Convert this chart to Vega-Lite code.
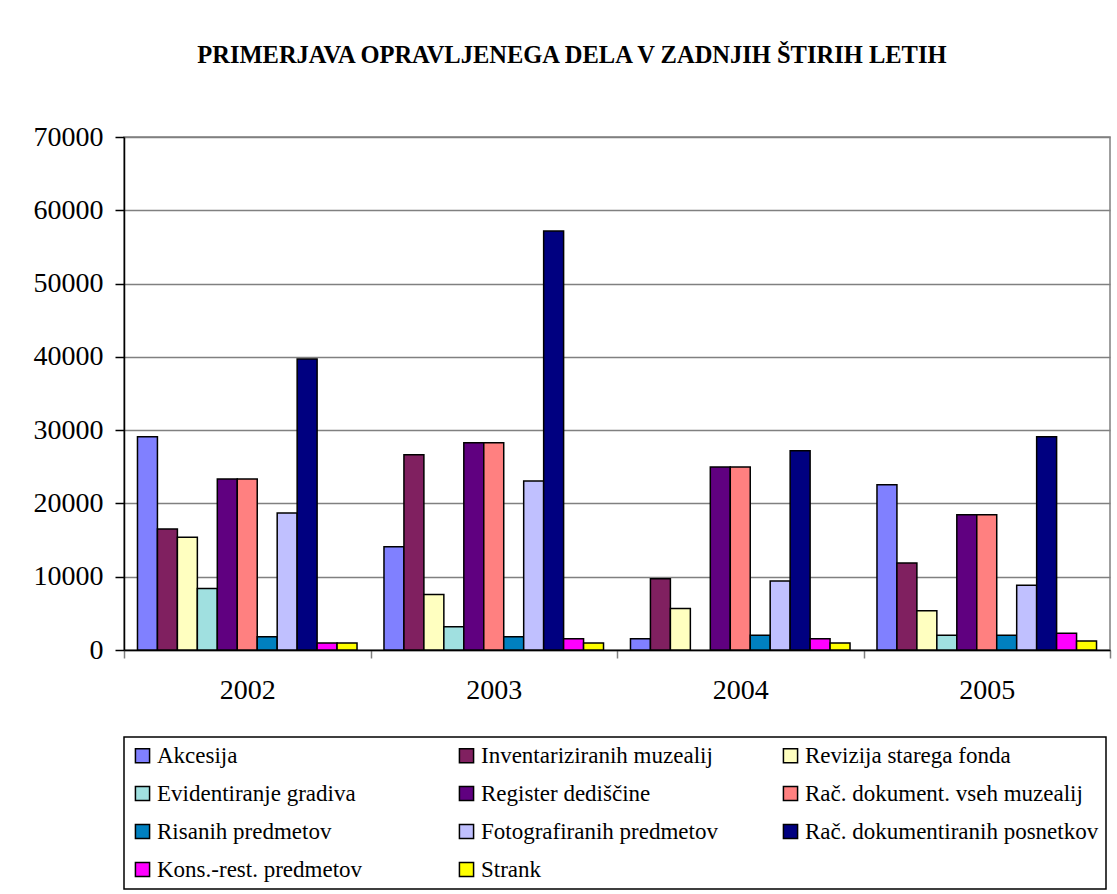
{
  "$schema": "https://vega.github.io/schema/vega-lite/v6.json",
  "width": 986,
  "height": 513,
  "padding": {"left": 33, "top": 42, "right": 7, "bottom": 0},
  "background": "white",
  "title": {
    "text": "PRIMERJAVA OPRAVLJENEGA DELA V ZADNJIH ŠTIRIH LETIH",
    "font": "Liberation Serif",
    "fontSize": 24.5,
    "fontWeight": "bold",
    "color": "black",
    "anchor": "middle",
    "frame": "bounds",
    "offset": 55
  },
  "data": {
    "values": [
      {"year": "2002", "series": "Akcesija", "value": 29100},
      {"year": "2002", "series": "Inventariziranih muzealij", "value": 16500},
      {"year": "2002", "series": "Revizija starega fonda", "value": 15400},
      {"year": "2002", "series": "Evidentiranje gradiva", "value": 8400},
      {"year": "2002", "series": "Register dediščine", "value": 23350},
      {"year": "2002", "series": "Rač. dokument. vseh muzealij", "value": 23350},
      {"year": "2002", "series": "Risanih predmetov", "value": 1800},
      {"year": "2002", "series": "Fotografiranih predmetov", "value": 18700},
      {"year": "2002", "series": "Rač. dokumentiranih posnetkov", "value": 39700},
      {"year": "2002", "series": "Kons.-rest. predmetov", "value": 950},
      {"year": "2002", "series": "Strank", "value": 950},
      {"year": "2003", "series": "Akcesija", "value": 14100},
      {"year": "2003", "series": "Inventariziranih muzealij", "value": 26650},
      {"year": "2003", "series": "Revizija starega fonda", "value": 7560},
      {"year": "2003", "series": "Evidentiranje gradiva", "value": 3160},
      {"year": "2003", "series": "Register dediščine", "value": 28280},
      {"year": "2003", "series": "Rač. dokument. vseh muzealij", "value": 28280},
      {"year": "2003", "series": "Risanih predmetov", "value": 1800},
      {"year": "2003", "series": "Fotografiranih predmetov", "value": 23060},
      {"year": "2003", "series": "Rač. dokumentiranih posnetkov", "value": 57180},
      {"year": "2003", "series": "Kons.-rest. predmetov", "value": 1530},
      {"year": "2003", "series": "Strank", "value": 950},
      {"year": "2004", "series": "Akcesija", "value": 1530},
      {"year": "2004", "series": "Inventariziranih muzealij", "value": 9710},
      {"year": "2004", "series": "Revizija starega fonda", "value": 5650},
      {"year": "2004", "series": "Register dediščine", "value": 24980},
      {"year": "2004", "series": "Rač. dokument. vseh muzealij", "value": 24980},
      {"year": "2004", "series": "Risanih predmetov", "value": 2000},
      {"year": "2004", "series": "Fotografiranih predmetov", "value": 9430},
      {"year": "2004", "series": "Rač. dokumentiranih posnetkov", "value": 27180},
      {"year": "2004", "series": "Kons.-rest. predmetov", "value": 1530},
      {"year": "2004", "series": "Strank", "value": 950},
      {"year": "2005", "series": "Akcesija", "value": 22540},
      {"year": "2005", "series": "Inventariziranih muzealij", "value": 11870},
      {"year": "2005", "series": "Revizija starega fonda", "value": 5360},
      {"year": "2005", "series": "Evidentiranje gradiva", "value": 2000},
      {"year": "2005", "series": "Register dediščine", "value": 18470},
      {"year": "2005", "series": "Rač. dokument. vseh muzealij", "value": 18470},
      {"year": "2005", "series": "Risanih predmetov", "value": 2000},
      {"year": "2005", "series": "Fotografiranih predmetov", "value": 8850},
      {"year": "2005", "series": "Rač. dokumentiranih posnetkov", "value": 29090},
      {"year": "2005", "series": "Kons.-rest. predmetov", "value": 2300},
      {"year": "2005", "series": "Strank", "value": 1240}
    ]
  },
  "mark": {"type": "bar", "stroke": "black", "strokeWidth": 1.5},
  "encoding": {
    "x": {
      "field": "year",
      "type": "nominal",
      "title": null,
      "scale": {"paddingInner": 0, "paddingOuter": 0},
      "axis": {
        "labelAngle": 0,
        "labelFont": "Liberation Serif",
        "labelFontSize": 28,
        "labelColor": "black",
        "labelPadding": 18,
        "tickBand": "extent",
        "tickSize": 8,
        "tickColor": "#808080",
        "tickWidth": 1.5,
        "domainColor": "black",
        "domainWidth": 1.5,
        "grid": false
      }
    },
    "xOffset": {
      "field": "series",
      "type": "nominal",
      "sort": ["Akcesija", "Inventariziranih muzealij", "Revizija starega fonda", "Evidentiranje gradiva", "Register dediščine", "Rač. dokument. vseh muzealij", "Risanih predmetov", "Fotografiranih predmetov", "Rač. dokumentiranih posnetkov", "Kons.-rest. predmetov", "Strank"],
      "scale": {"paddingInner": 0, "paddingOuter": 0.675}
    },
    "y": {
      "field": "value",
      "type": "quantitative",
      "title": null,
      "scale": {"domain": [0, 70000], "nice": false},
      "axis": {
        "values": [0, 10000, 20000, 30000, 40000, 50000, 60000, 70000],
        "format": "d",
        "labelFont": "Liberation Serif",
        "labelFontSize": 28,
        "labelColor": "black",
        "labelPadding": 12,
        "tickSize": 9,
        "tickColor": "black",
        "tickWidth": 1.5,
        "domainColor": "black",
        "domainWidth": 1.5,
        "gridColor": "#808080",
        "gridWidth": 1.5
      }
    },
    "color": {
      "field": "series",
      "type": "nominal",
      "scale": {
        "domain": ["Akcesija", "Inventariziranih muzealij", "Revizija starega fonda", "Evidentiranje gradiva", "Register dediščine", "Rač. dokument. vseh muzealij", "Risanih predmetov", "Fotografiranih predmetov", "Rač. dokumentiranih posnetkov", "Kons.-rest. predmetov", "Strank"],
        "range": ["#8080FF", "#802060", "#FFFFC0", "#A0E0E0", "#600080", "#FF8080", "#0080C0", "#C0C0FF", "#000080", "#FF00FF", "#FFFF00"]
      },
      "legend": {
        "title": null,
        "orient": "none",
        "legendX": 0,
        "legendY": 600,
        "columns": 3,
        "direction": "horizontal",
        "gridAlign": "all",
        "symbolType": "square",
        "symbolSize": 200,
        "symbolStrokeColor": "black",
        "symbolStrokeWidth": 1.5,
        "labelFont": "Liberation Serif",
        "labelFontSize": 23,
        "labelColor": "black",
        "labelLimit": 400,
        "labelOffset": 3,
        "rowPadding": 14,
        "columnPadding": 4,
        "padding": 7,
        "strokeColor": "black"
      }
    }
  },
  "config": {
    "font": "Liberation Serif",
    "view": {"stroke": "#808080", "strokeWidth": 1.5},
    "legend": {"strokeWidth": 1.5, "labelFont": "Liberation Serif"},
    "axis": {"labelFont": "Liberation Serif"}
  }
}
